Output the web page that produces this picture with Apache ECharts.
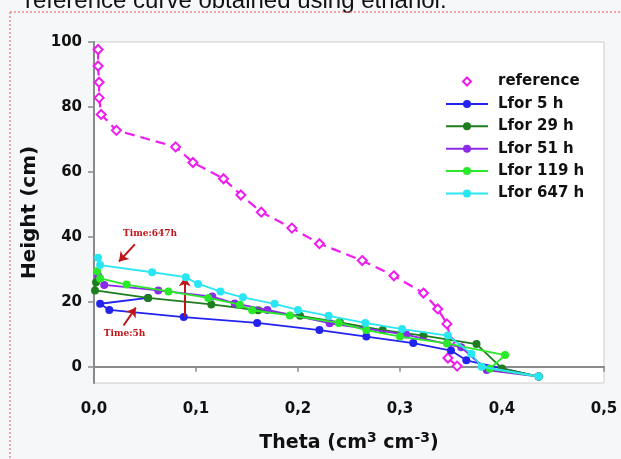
<!DOCTYPE html>
<html>
<head>
<meta charset="utf-8">
<script src="https://cdn.jsdelivr.net/npm/echarts@6/dist/echarts.min.js"></script>
<style>
  html, body { margin: 0; padding: 0; background: #f6f7f9; }
  #chart { width: 621px; height: 459px; }
</style>
</head>
<body>
<div id="chart"></div>
<script>
// data: [theta, height]
const reference = [[0.004,97.7],[0.004,92.6],[0.005,87.6],[0.005,82.8],[0.007,77.7],[0.022,72.8],[0.080,67.7],[0.097,62.9],[0.127,57.9],[0.144,52.9],[0.164,47.6],[0.194,42.7],[0.221,37.9],[0.263,32.7],[0.294,28.0],[0.323,22.7],[0.337,17.8],[0.346,13.2],[0.350,7.8],[0.347,2.7],[0.356,0.2]]
const lfor5 = [[0.053,21.2],[0.006,19.4],[0.015,17.5],[0.088,15.3],[0.160,13.5],[0.221,11.3],[0.267,9.3],[0.313,7.3],[0.350,5.0],[0.365,2.0],[0.436,-3]]
const lfor29 = [[0.002,26.0],[0.001,23.5],[0.053,21.2],[0.115,19.2],[0.161,17.4],[0.202,15.7],[0.241,13.7],[0.283,11.3],[0.323,9.6],[0.375,7.0],[0.400,-0.5],[0.436,-3]]
const lfor51 = [[0.004,28.0],[0.010,25.2],[0.063,23.5],[0.116,21.6],[0.138,19.5],[0.170,17.5],[0.231,13.4],[0.306,9.9],[0.360,6.0],[0.385,-1.0],[0.436,-3]]
const lfor119 = [[0.003,29.4],[0.006,27.2],[0.032,25.3],[0.073,23.2],[0.112,21.2],[0.143,19.1],[0.155,17.4],[0.192,15.8],[0.240,13.5],[0.267,11.3],[0.300,9.3],[0.346,7.2],[0.403,3.6],[0.388,-0.6],[0.436,-3]]
const lfor647 = [[0.004,33.6],[0.006,31.3],[0.057,29.1],[0.090,27.6],[0.102,25.5],[0.124,23.2],[0.146,21.4],[0.177,19.4],[0.200,17.5],[0.230,15.7],[0.266,13.5],[0.302,11.6],[0.347,9.6],[0.370,4.0],[0.380,0.0],[0.436,-3]]

const names = ['Lfor 5 h', 'Lfor 29 h', 'Lfor 51 h', 'Lfor 119 h', 'Lfor 647 h']
const colors = ['#2323f0', '#1e7d1e', '#8a2be8', '#2ae82a', '#2ae6f2']
const sets = [lfor5, lfor29, lfor51, lfor119, lfor647]
const yTicks = [0, 20, 40, 60, 80, 100]

const red = '#c0161a'
const magenta = '#ee1cee'
const font = 'DejaVu Sans'

const chart = echarts.init(document.getElementById('chart'))

// Lfor lines
const lforSeries = sets.map((d, i) => ({
  name: names[i],
  type: 'line',
  data: d,
  symbol: 'circle',
  symbolSize: 8,
  color: colors[i],
  lineStyle: { width: 1.8, color: colors[i] },
  itemStyle: { color: colors[i] },
  z: 3 + i
}))

// arrows and the notes on them
lforSeries[0].markLine = {
  silent: true,
  symbol: ['none', 'arrow'],
  symbolSize: 9,
  label: { show: false },
  lineStyle: { color: red, width: 2, type: 'solid' },
  data: [
    [{ coord: [0.040, 37.7] }, { coord: [0.0245, 32.4] }],
    [{ coord: [0.029, 12.7] }, { coord: [0.041, 18.2] }],
    [{ coord: [0.089, 15.4] }, { coord: [0.089, 27.6] }]
  ]
}
lforSeries[0].markPoint = {
  silent: true,
  symbol: 'circle',
  symbolSize: 0,
  label: {
    show: true,
    color: red,
    fontFamily: 'DejaVu Serif',
    fontWeight: 'bold',
    fontSize: 9,
    formatter: p => p.name
  },
  data: [
    { name: 'Time:647h', coord: [0.055, 41.0] },
    { name: 'Time:5h', coord: [0.030, 10.2] }
  ]
}

const option = {
  backgroundColor: '#f6f7f9',
  animation: false,
  textStyle: { fontFamily: font },
  grid: {
    left: 94, right: 17, top: 42, bottom: 76,
    show: true, backgroundColor: '#ffffff', borderColor: '#cccccc', borderWidth: 1
  },
  legend: {
    left: 440, top: 69,
    orient: 'vertical',
    itemWidth: 42, itemHeight: 10, itemGap: 7.4,
    textStyle: { fontSize: 15, fontWeight: 'bold', color: '#111', padding: [0, 0, 0, 5] },
    data: [
      { name: 'reference', lineStyle: { width: 0, opacity: 0 } },
      ...names
    ]
  },
  xAxis: {
    type: 'value',
    min: 0, max: 0.5, interval: 0.1,
    name: 'Theta (cm{s|3} cm{s|-3})',
    nameLocation: 'middle',
    nameGap: 48,
    nameTextStyle: {
      fontSize: 19, fontWeight: 'bold', color: '#111',
      rich: { s: { fontSize: 14, fontWeight: 'bold', verticalAlign: 'top', padding: [0, 0, 10, 0] } }
    },
    axisLine: { lineStyle: { color: '#8a8a8a', width: 2 } },
    axisTick: { length: 5, lineStyle: { color: '#8a8a8a', width: 1.5 } },
    axisLabel: {
      fontSize: 15, fontWeight: 'bold', color: '#111', margin: 19,
      formatter: v => v.toFixed(1).replace('.', ',')
    },
    splitLine: { show: false }
  },
  yAxis: {
    type: 'value',
    min: -5, max: 100,
    name: 'Height (cm)',
    nameLocation: 'middle',
    nameGap: 54,
    nameRotate: 90,
    nameTextStyle: { fontSize: 20, fontWeight: 'bold', color: '#111' },
    axisLine: { show: true, lineStyle: { color: '#8a8a8a', width: 2 } },
    axisTick: { length: 6, lineStyle: { color: '#8a8a8a', width: 1.5 }, customValues: yTicks },
    axisLabel: { fontSize: 15, fontWeight: 'bold', color: '#111', margin: 12, customValues: yTicks },
    splitLine: { show: false }
  },
  graphic: [
    {
      type: 'text', left: 25, top: -11, silent: true,
      style: { text: 'reference curve obtained using ethanol.', fontSize: 24, fill: '#111', fontFamily: 'Liberation Sans' }
    },
    {
      type: 'line', silent: true,
      shape: { x1: 10, y1: 12, x2: 621, y2: 12 },
      style: { stroke: '#e57373', lineWidth: 1.2, lineDash: [2, 2] }
    },
    {
      type: 'line', silent: true,
      shape: { x1: 10, y1: 12, x2: 10, y2: 459 },
      style: { stroke: '#e57373', lineWidth: 1.2, lineDash: [2, 2] }
    }
  ],
  series: [
    {
      name: 'reference',
      type: 'line',
      data: reference,
      symbol: 'emptyDiamond',
      symbolSize: 9,
      color: magenta,
      itemStyle: { color: magenta, borderWidth: 2 },
      lineStyle: { color: magenta, width: 2.2, type: [10, 6] },
      z: 2
    },
    ...lforSeries
  ]
}

chart.setOption(option)
</script>
</body>
</html>
